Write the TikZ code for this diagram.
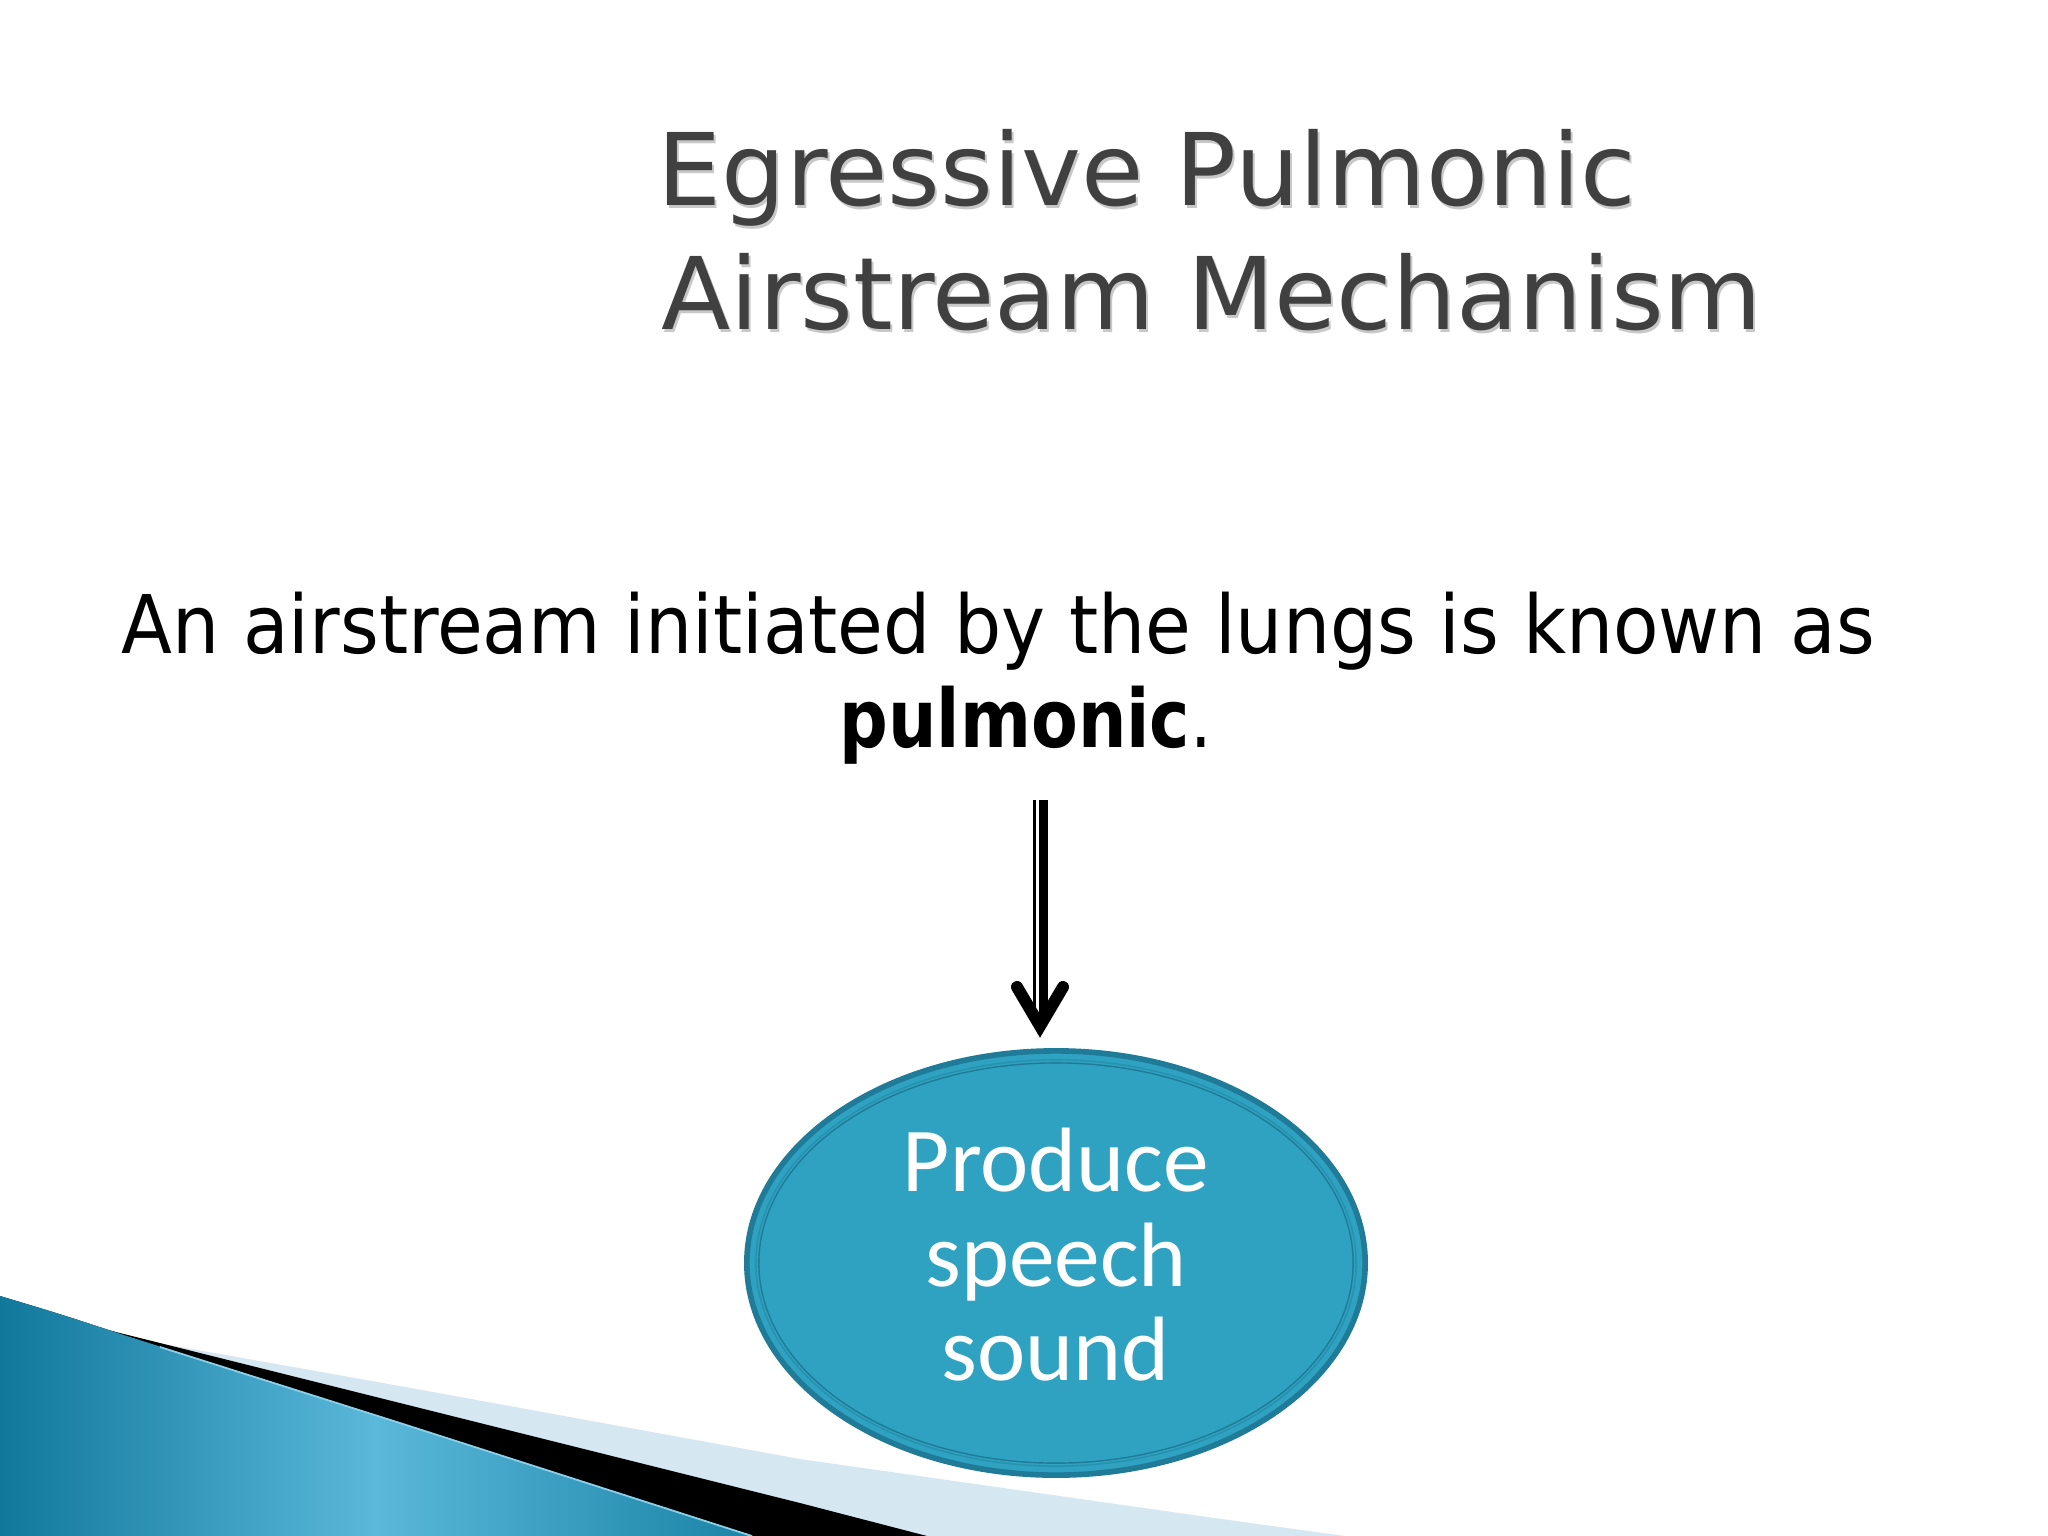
\documentclass[tikz,border=0pt]{standalone}
\usepackage{fontspec}
\usepackage{graphicx}
\usetikzlibrary{shapes.geometric,calc}
\newfontfamily\dejavu{DejaVu Sans}
\newfontfamily\carlito{Carlito}
\definecolor{titlegray}{HTML}{404040}
\definecolor{titleshadow}{HTML}{C8C8C8}
\definecolor{ellfill}{HTML}{2EA2C0}
\definecolor{elledge}{HTML}{1F7B98}
\definecolor{ellinner}{HTML}{2790AE}
\definecolor{bandlight}{HTML}{D5E7F0}
\definecolor{bluedark}{HTML}{11789C}
\definecolor{bluelight}{HTML}{5AB8DA}
\definecolor{blueright}{HTML}{1A84A6}
\definecolor{bluehigh}{HTML}{8ED0E8}
\tikzset{
  titletext/.style={anchor=base west, inner sep=0pt, text=titlegray, font=\dejavu\fontsize{28.5}{34}\selectfont},
  titleshade/.style={titletext, text=titleshadow},
  bodytext/.style={anchor=base west, inner sep=0pt, text=black, font=\dejavu\fontsize{23}{28}\selectfont},
  elltext/.style={anchor=base, inner sep=0pt, text=white, font=\carlito\fontsize{26}{27}\selectfont},
  bubble/.style={ellipse, minimum width=6.18cm, minimum height=4.24cm, inner sep=0pt, fill=ellfill, draw=elledge, line width=1.6pt},
  shaftthick/.style={line width=2.3pt, black},
  shaftthin/.style={line width=0.85pt, black},
  arrowhead/.style={line width=3.4pt, black, line cap=round, line join=miter},
}
\begin{document}
\begin{tikzpicture}[x=0.01cm, y=-0.01cm]
\useasboundingbox (0,0) rectangle (2048,1536);
\fill[white] (0,0) rectangle (2048,1536);

% bottom-left decoration
\fill[bandlight] (130,1338) -- (400,1386) -- (800,1459) -- (1200,1516) -- (1345,1536) -- (0,1536) -- cycle;
\fill[black] (100,1328) -- (400,1403) -- (800,1503) -- (927,1536) -- (0,1536) -- cycle;
\fill[left color=bluedark, right color=blueright, middle color=bluelight] (0,1296) .. controls (60,1314) .. (127,1336) -- (400,1423) -- (752,1536) -- (0,1536) -- cycle;
\draw[bluehigh, line width=0.5pt] (160,1347) -- (400,1423) -- (752,1536);

% title
\node[titleshade] at (659,208) {\resizebox{9.78cm}{\height}{Egressive Pulmonic}};
\node[titleshade] at (663,332) {\resizebox{11.00cm}{\height}{Airstream Mechanism}};
\node[titletext] (title1) at (657,205) {\resizebox{9.78cm}{\height}{Egressive Pulmonic}};
\node[titletext] (title2) at (661,329) {\resizebox{11.00cm}{\height}{Airstream Mechanism}};

% body text
\node[bodytext] (body1) at (121,653) {\resizebox{17.52cm}{\height}{An airstream initiated by the lungs is known as}};
\node[bodytext] (body2) at (839,747) {\resizebox{3.72cm}{\height}{\textbf{pulmonic}.}};

% ellipse
\node[bubble] (ell) at (1056,1263) {};
\draw[ellinner, line width=0.4pt] (ell.center) ellipse [x radius=3.00cm, y radius=2.03cm];
\draw[elledge, line width=0.4pt] (ell.center) ellipse [x radius=2.97cm, y radius=2.00cm];
\node[elltext] (t1) at (1056,1191) {Produce};
\node[elltext] (t2) at (1056,1286) {speech};
\node[elltext] (t3) at (1056,1380) {sound};

% arrow
\coordinate (astart) at (1040,800);
\coordinate (atip) at (1040,1026);
\draw[shaftthin] ($(astart)+(-5.5,0)$) -- ($(atip)+(-5.5,-12)$);
\draw[shaftthick] ($(astart)+(3.5,0)$) -- ($(atip)+(3.5,-12)$);
\draw[arrowhead] ($(atip)+(-23,-39)$) -- (atip) -- ($(atip)+(23,-39)$);
\end{tikzpicture}
\end{document}
